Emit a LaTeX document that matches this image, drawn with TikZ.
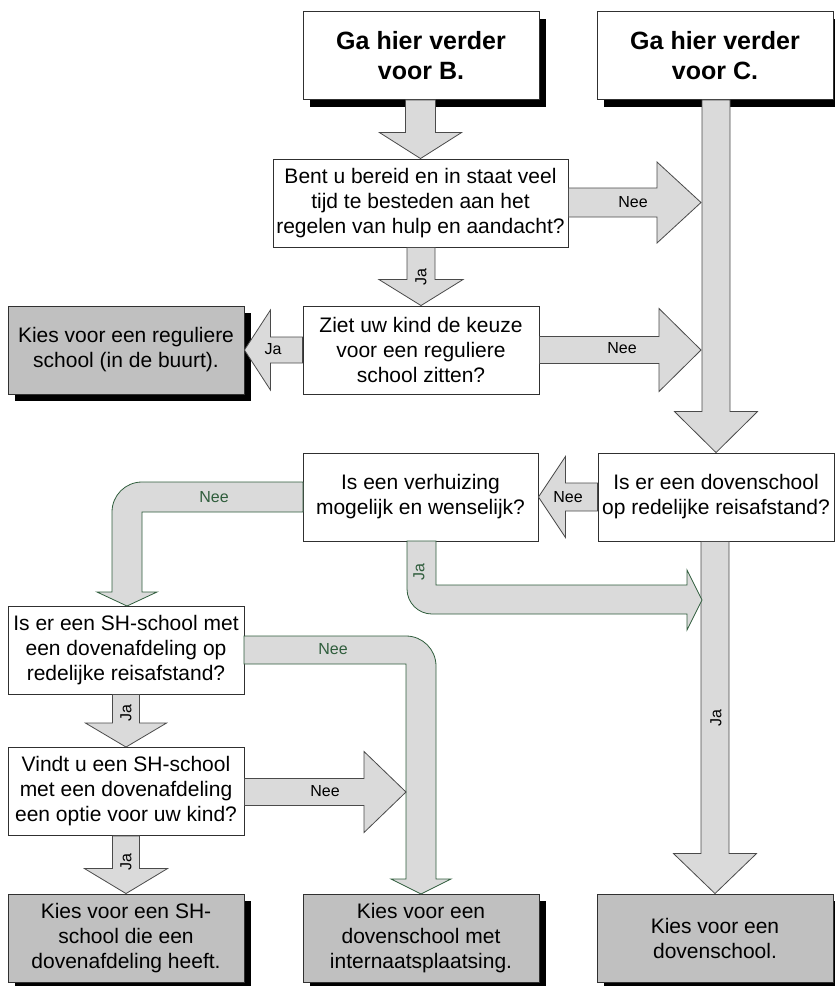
\documentclass[tikz,border=0pt]{standalone}
\usepackage{fontspec}
\setmainfont{Liberation Sans}
\usetikzlibrary{shadows,calc}
\definecolor{arrfill}{HTML}{DADADA}
\definecolor{arrline}{HTML}{4A4A4A}
\definecolor{grn}{HTML}{2F5D3C}
\definecolor{resfill}{HTML}{C0C0C0}
\definecolor{boxline}{HTML}{303030}

% #1 style, #2 start, #3 tip, #4 shaft half width, #5 head half width, #6 head length
\newcommand\blockdown[6]{\path[#1] let \p1=(#2),\p2=(#3) in
  (\x2-#4,\y1) -- (\x2+#4,\y1) -- (\x2+#4,\y2+#6) -- (\x2+#5,\y2+#6) -- (\x2,\y2)
  -- (\x2-#5,\y2+#6) -- (\x2-#4,\y2+#6) -- cycle;}
\newcommand\blockright[6]{\path[#1] let \p1=(#2),\p2=(#3) in
  (\x1,\y2+#4) -- (\x2-#6,\y2+#4) -- (\x2-#6,\y2+#5) -- (\x2,\y2)
  -- (\x2-#6,\y2-#5) -- (\x2-#6,\y2-#4) -- (\x1,\y2-#4) -- cycle;}
\newcommand\blockleft[6]{\path[#1] let \p1=(#2),\p2=(#3) in
  (\x1,\y2+#4) -- (\x2+#6,\y2+#4) -- (\x2+#6,\y2+#5) -- (\x2,\y2)
  -- (\x2+#6,\y2-#5) -- (\x2+#6,\y2-#4) -- (\x1,\y2-#4) -- cycle;}

\tikzset{
  qbox/.style={draw=boxline, line width=0.9pt, fill=white, minimum width=236pt,
    minimum height=88pt, inner sep=0pt, align=center,
    font=\fontsize{21}{25}\selectfont},
  titlebox/.style={qbox, general shadow={fill=black, shadow xshift=7pt, shadow yshift=-7pt},
    font=\fontsize{25}{30}\selectfont\bfseries},
  resbox/.style={qbox, fill=resfill, general shadow={fill=black, shadow xshift=7pt, shadow yshift=-7pt}},
  arr/.style={fill=arrfill, draw=arrline, line width=0.8pt, line join=miter},
  garr/.style={fill=arrfill, draw=grn, line width=0.8pt, line join=miter},
  lbl/.style={font=\fontsize{16}{18}\selectfont, inner sep=0pt},
  glbl/.style={lbl, text=grn},
}

\begin{document}
\begin{tikzpicture}[x=1pt, y=-1pt]
\useasboundingbox (0,0) rectangle (835,986);
\clip (0,0) rectangle (835,986);

% nodes
\node[titlebox] (b) at (421,55.5) {Ga hier verder\\voor B.};
\node[titlebox] (c) at (715,55.5) {Ga hier verder\\voor C.};
\node[qbox, minimum width=295pt] (q1) at (420.5,203) {Bent u bereid en in staat veel\\tijd te besteden aan het\\regelen van hulp en aandacht?};
\node[qbox] (q2) at (421,350) {Ziet uw kind de keuze\\voor een reguliere\\school zitten?};
\node[resbox] (r1) at (126,350) {Kies voor een reguliere\\school (in de buurt).};
\node[qbox] (q3) at (716,497) {Is er een dovenschool\\op redelijke reisafstand?};
\node[qbox, minimum width=235pt] (q4) at (420.5,497) {Is een verhuizing\\mogelijk en wenselijk?};
\node[qbox] (q5) at (126,650) {Is er een SH-school met\\een dovenafdeling op\\redelijke reisafstand?};
\node[qbox] (q6) at (126,791.5) {Vindt u een SH-school\\met een dovenafdeling\\een optie voor uw kind?};
\node[resbox] (r2) at (126,938) {Kies voor een SH-\\school die een\\dovenafdeling heeft.};
\node[resbox] (r3) at (421,938) {Kies voor een\\dovenschool met\\internaatsplaatsing.};
\node[resbox] (r4) at (715,938) {Kies voor een\\dovenschool.};

% tips on the shafts
\coordinate (t1) at (701,202.5);
\coordinate (t2) at (701,350);
\coordinate (t3) at (406,792);

% straight block arrows
\blockdown{arr}{b.south}{q1.north}{15pt}{41pt}{26pt}
\blockdown{arr}{q1.south}{q2.north}{14pt}{42pt}{26pt}
\blockdown{arr}{c.south}{q3.north}{14pt}{41.5pt}{41pt}
\blockdown{arr}{q3.south}{r4.north}{14pt}{41.5pt}{40pt}
\blockright{arr}{q1.east}{t1}{14.5pt}{40.5pt}{44pt}
\blockright{arr}{q2.east}{t2}{13.5pt}{41.5pt}{42pt}
\blockleft{arr}{q2.west}{r1.east}{13pt}{40pt}{26pt}
\blockleft{arr}{q3.west}{q4.east}{14pt}{40.5pt}{27pt}
\blockdown{arr}{q5.south}{q6.north}{13.5pt}{40.5pt}{24pt}
\blockdown{arr}{q6.south}{r2.north}{13.5pt}{41.5pt}{25pt}

% curved green arrows
\path[garr] (407,541) -- (407,589) .. controls (407,602.8) and (418.2,614) .. (432,614)
  -- (687,614) -- (687,630) -- (702,600) -- (687,570) -- (687,585) -- (436,585) -- (436,541) -- cycle;
\path[garr] (303,482) -- (142,482) .. controls (125.4,482) and (112,495.4) .. (112,512)
  -- (112,592) -- (97,592) -- (127,606) -- (157,592) -- (142,592) -- (142,512) -- (303,512) -- cycle;
\path[garr] (244,636) -- (406,636) .. controls (422.6,636) and (436,649.4) .. (436,666)
  -- (436,879) -- (451,879) -- (421,894) -- (391,879) -- (406,879) -- (406,664) -- (244,664) -- cycle;

\blockright{arr}{q6.east}{t3}{13.5pt}{40.5pt}{42pt}

% labels
\node[lbl] (l1) at (633,202) {Nee};
\node[lbl, rotate=90] (l2) at (421,277) {Ja};
\node[lbl] (l3) at (273,349) {Ja};
\node[lbl] (l4) at (622,348) {Nee};
\node[lbl] (l5) at (568,497) {Nee};
\node[lbl, rotate=90] (l6) at (716,718) {Ja};
\node[glbl, rotate=90] (l7) at (419,572) {Ja};
\node[glbl] (l8) at (214,497) {Nee};
\node[glbl] (l9) at (333,649) {Nee};
\node[lbl, rotate=90] (l10) at (126,713) {Ja};
\node[lbl, rotate=90] (l11) at (126,862) {Ja};
\node[lbl] (l12) at (325,791) {Nee};
\end{tikzpicture}
\end{document}
